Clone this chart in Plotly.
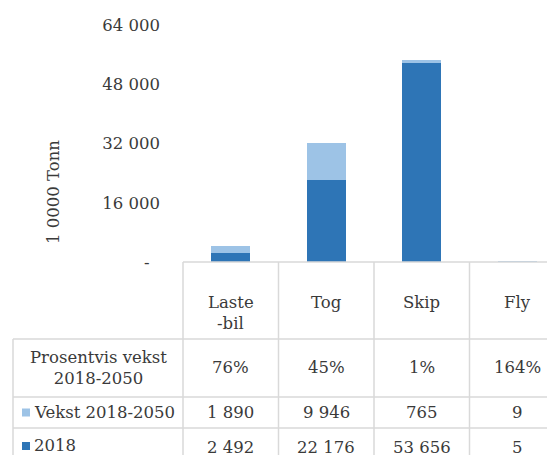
import plotly.graph_objects as go

# ---- data ----
categories = ["Laste-bil", "Tog", "Skip", "Fly"]
category_labels = ["Laste<br>-bil", "Tog", "Skip", "Fly"]
values_2018 = [2492, 22176, 53656, 5]
values_vekst = [1890, 9946, 765, 9]
pct_growth = ["76%", "45%", "1%", "164%"]
series_names = ["Vekst 2018-2050", "2018"]
row_title_pct = "Prosentvis vekst<br>2018-2050"
y_tickvals = [0, 16000, 32000, 48000, 64000]
y_ticktext = ["-\u00a0\u00a0", "16 000", "32 000", "48 000", "64 000"]
y_title = "1 0000 Tonn"

def fmt(v):
    return f"{v:,}".replace(",", " ")

OFF = 8
W, H = 555, 455
L, T, B = 183 - OFF, 25 - OFF, 262 - OFF
COLW = 95.5
X0 = -0.5
X1 = X0 + (W - L) / COLW
rows = [r - OFF for r in [262, 339, 397, 428, 466]]
TABLE_LEFT = 13 - OFF

DARK = "#2E75B6"
LIGHT = "#9DC3E6"
GRID = "#d9d9d9"
TXT = "#3a3a3a"
FONT = "DejaVu Serif"
FS = 16.5

def px(p):
    return (p - L) / (W - L)

def py(p):
    return (B - p) / (B - T)

def dx(xd):
    return (xd - X0) / (X1 - X0)

fig = go.Figure()
fig.add_trace(go.Bar(x=categories, y=values_2018, name=series_names[1],
                     marker=dict(color=DARK, line=dict(width=0)), width=0.41))
fig.add_trace(go.Bar(x=categories, y=values_vekst, name=series_names[0],
                     marker=dict(color=LIGHT, line=dict(width=0)), width=0.41))

shapes = []
annots = []
line = dict(color=GRID, width=1.5)

shapes.append(dict(type="line", xref="paper", yref="paper",
                   x0=dx(X0), x1=1.05, y0=py(rows[0]), y1=py(rows[0]), line=line))
for r in rows[1:]:
    shapes.append(dict(type="line", xref="paper", yref="paper",
                       x0=px(TABLE_LEFT), x1=1.05, y0=py(r), y1=py(r), line=line))
for i in range(len(categories) + 1):
    xb = dx(i - 0.5)
    shapes.append(dict(type="line", xref="paper", yref="paper",
                       x0=xb, x1=xb, y0=py(rows[0]), y1=py(rows[-1]), line=line))
shapes.append(dict(type="line", xref="paper", yref="paper",
                   x0=px(TABLE_LEFT), x1=px(TABLE_LEFT), y0=py(rows[1]), y1=py(rows[-1]), line=line))

font = dict(family=FONT, size=FS, color=TXT)

def mid(a, b):
    return (a + b) / 2

def ann(x, y, text, **kw):
    d = dict(x=x, y=y, xref="paper", yref="paper", text=text, showarrow=False,
             font=font, xanchor="center", yanchor="middle", align="center")
    d.update(kw)
    annots.append(d)

header_y1 = 302 - OFF
for i, lab in enumerate(category_labels):
    if "<br>" in lab:
        l1, l2 = lab.split("<br>")
        ann(dx(i), py(header_y1), l1)
        ann(dx(i), py(header_y1 + 21), l2)
    else:
        ann(dx(i), py(header_y1), lab)
    ann(dx(i), py(mid(rows[1], rows[2])), pct_growth[i])
    ann(dx(i), py(mid(rows[2], rows[3])), fmt(values_vekst[i]))
    ann(dx(i), py(rows[3] + 19), fmt(values_2018[i]))

ann(px(mid(TABLE_LEFT, L)), py(mid(rows[1], rows[2])), row_title_pct)
sq = 8
for name, col, yc in [(series_names[0], LIGHT, mid(rows[2], rows[3])),
                      (series_names[1], DARK, rows[3] + 18)]:
    shapes.append(dict(type="rect", xref="paper", yref="paper",
                       x0=px(TABLE_LEFT + 9), x1=px(TABLE_LEFT + 9 + sq),
                       y0=py(yc + sq / 2), y1=py(yc - sq / 2),
                       fillcolor=col, line=dict(width=0)))
    ann(px(TABLE_LEFT + 9 + sq + 2), py(yc), name, xanchor="left")

ann(px(53 - OFF), py(192 - OFF), y_title, textangle=-90)

fig.update_layout(
    width=W, height=H,
    margin=dict(l=L, r=0, t=T, b=H - B, pad=0),
    barmode="stack",
    showlegend=False,
    plot_bgcolor="white", paper_bgcolor="white",
    font=font,
    xaxis=dict(range=[X0, X1], showticklabels=False, showline=False, showgrid=False,
               zeroline=False, ticks=""),
    yaxis=dict(range=[0, 64000], tickvals=y_tickvals, ticktext=y_ticktext,
               showline=False, showgrid=False, zeroline=False, ticks="",
               tickfont=font, ticklabelstandoff=22),
    shapes=shapes, annotations=annots,
)

fig.write_html("out.html")
